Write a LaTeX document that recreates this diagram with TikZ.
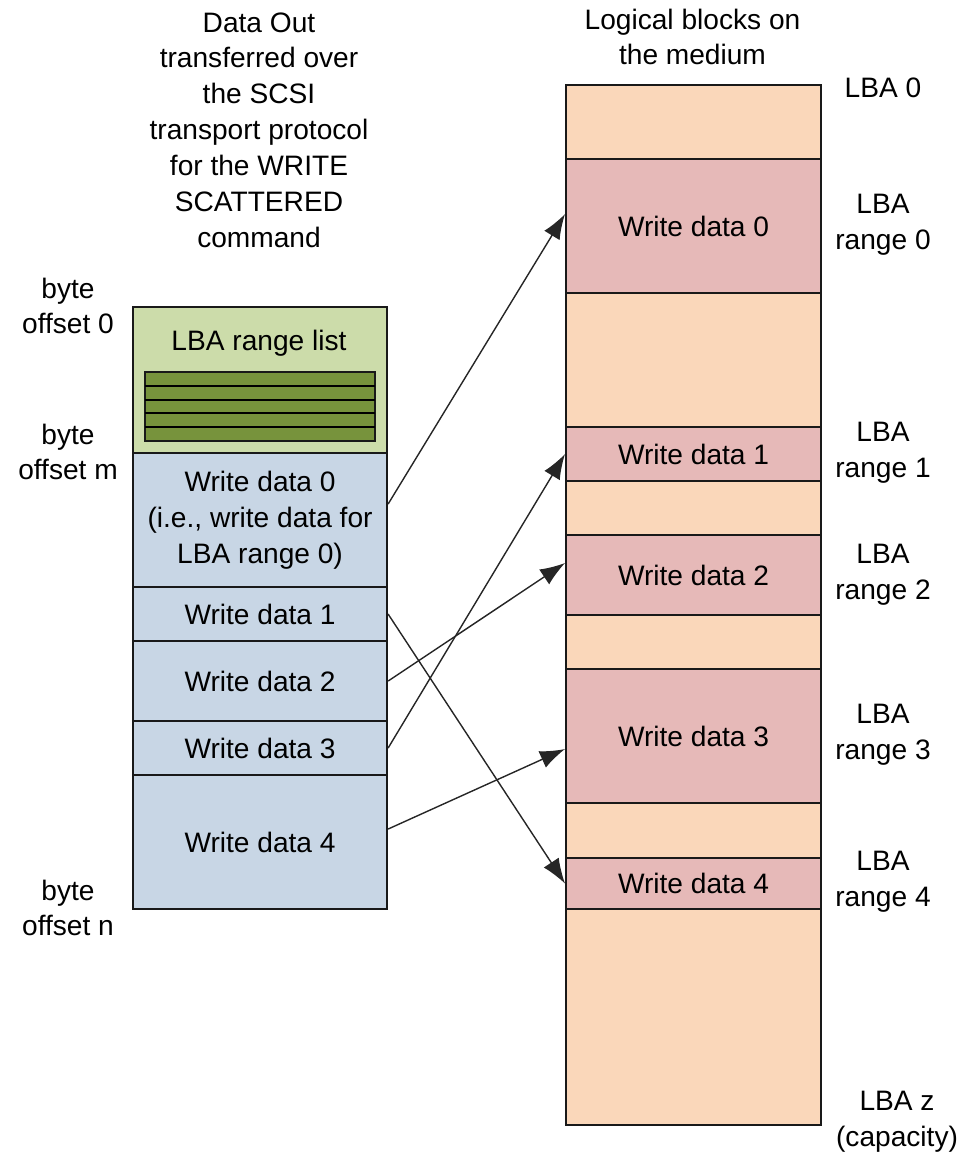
\documentclass[tikz,border=0pt]{standalone}
\usepackage{fontspec}
\setmainfont{Liberation Sans}
\usetikzlibrary{arrows.meta}
\definecolor{listgreen}{RGB}{204,220,170}
\definecolor{stripegreen}{RGB}{119,147,60}
\definecolor{databl}{RGB}{200,214,229}
\definecolor{peach}{RGB}{250,215,186}
\definecolor{rose}{RGB}{230,185,184}
\tikzset{
  blk/.style={draw=black!90, line width=0.6pt, anchor=north west, inner sep=0pt,
    minimum width=2.54cm, align=center},
  lblk/.style={blk, fill=databl},
  rblk/.style={blk, fill=peach, minimum width=2.55cm},
  wblk/.style={blk, fill=rose, minimum width=2.55cm},
  lbl/.style={align=center, inner sep=0pt},
  arr/.style={-{Latex[length=2.5mm,width=1.8mm]}, line width=0.4pt, black!85}
}
\begin{document}
\begin{tikzpicture}[every node/.style={font=\fontsize{8}{10.2}\selectfont}]
        \useasboundingbox (0,0) rectangle (9.61,11.55);
        % data out buffer
        \node[blk, fill=listgreen, minimum height=1.46cm] (lst) at (1.32,8.49) {};
        \node[lbl] (lsttxt) at (2.59,8.12) {LBA range list};
        \filldraw[fill=stripegreen, draw=black!90, line width=0.6pt] (1.45,7.14) rectangle (3.75,7.83);
        \draw[line width=0.6pt] (1.45,7.278) -- (3.75,7.278);
        \draw[line width=0.6pt] (1.45,7.416) -- (3.75,7.416);
        \draw[line width=0.6pt] (1.45,7.554) -- (3.75,7.554);
        \draw[line width=0.6pt] (1.45,7.692) -- (3.75,7.692);
        \node[lblk, minimum height=1.34cm] (l0) at (1.32,7.03) {Write data 0\\(i.e., write data for\\LBA range 0)};
        \node[lblk, minimum height=0.54cm] (l1) at (1.32,5.69) {Write data 1};
        \node[lblk, minimum height=0.80cm] (l2) at (1.32,5.15) {Write data 2};
        \node[lblk, minimum height=0.54cm] (l3) at (1.32,4.35) {Write data 3};
        \node[lblk, minimum height=1.34cm] (l4) at (1.32,3.81) {Write data 4};
        % the medium
        \node[rblk, minimum height=0.74cm] (e0) at (5.65,10.71) {};
        \node[wblk, minimum height=1.34cm] (w0) at (5.65,9.97) {Write data 0};
        \node[rblk, minimum height=1.34cm] (e1) at (5.65,8.63) {};
        \node[wblk, minimum height=0.54cm] (w1) at (5.65,7.29) {Write data 1};
        \node[rblk, minimum height=0.54cm] (e2) at (5.65,6.75) {};
        \node[wblk, minimum height=0.80cm] (w2) at (5.65,6.21) {Write data 2};
        \node[rblk, minimum height=0.54cm] (e3) at (5.65,5.41) {};
        \node[wblk, minimum height=1.34cm] (w3) at (5.65,4.87) {Write data 3};
        \node[rblk, minimum height=0.55cm] (e4) at (5.65,3.53) {};
        \node[wblk, minimum height=0.51cm] (w4) at (5.65,2.98) {Write data 4};
        \node[rblk, minimum height=2.16cm] (e5) at (5.65,2.47) {};
        % arrows
        \draw[arr] ([yshift=0.16cm]l0.east) -- ([yshift=0.12cm]w0.west);
        \draw[arr] (l1.east) -- (w4.west);
        \draw[arr] (l2.east) -- ([yshift=0.12cm]w2.west);
        \draw[arr] (l3.east) -- (w1.west);
        \draw[arr] ([yshift=0.13cm]l4.east) -- ([yshift=-0.13cm]w3.west);
        % titles
        \node[lbl] (ttlout) at (2.59,10.25) {Data Out\\transferred over\\the SCSI\\transport protocol\\for the WRITE\\SCATTERED\\command};
        \node[lbl] (ttlmed) at (6.925,11.18) {Logical blocks on\\the medium};
        % offsets
        \node[lbl] (off0) at (0.68,8.49) {byte\\offset 0};
        \node[lbl] (offm) at (0.68,7.03) {byte\\offset m};
        \node[lbl] (offn) at (0.68,2.47) {byte\\offset n};
        % lba labels
        \node[lbl] (lba0) at (8.83,10.67) {LBA 0};
        \node[lbl] (rng0) at (8.83,9.30) {LBA\\range 0};
        \node[lbl] (rng1) at (8.83,7.02) {LBA\\range 1};
        \node[lbl] (rng2) at (8.83,5.80) {LBA\\range 2};
        \node[lbl] (rng3) at (8.83,4.20) {LBA\\range 3};
        \node[lbl] (rng4) at (8.83,2.73) {LBA\\range 4};
        \node[lbl] (lbaz) at (8.97,0.33) {LBA z\\(capacity)};
	\end{tikzpicture}
\end{document}
